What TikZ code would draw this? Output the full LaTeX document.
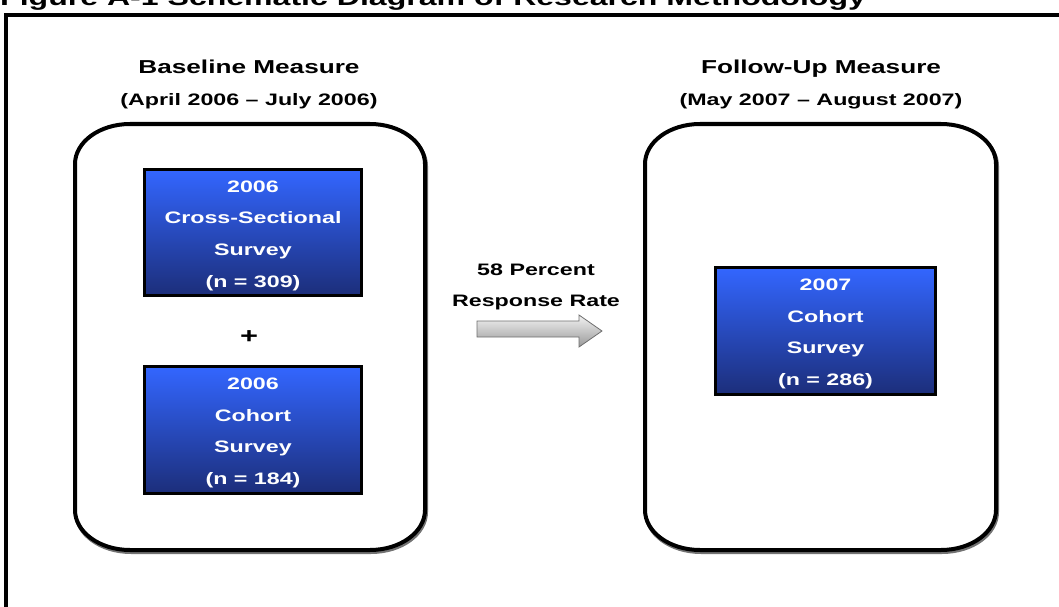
\documentclass[tikz,border=0pt]{standalone}
\usepackage{fontspec}
\setmainfont{Liberation Sans}[FakeStretch=1.4]
\definecolor{btop}{RGB}{51,102,255}
\definecolor{bbot}{RGB}{28,46,122}
\definecolor{agray}{RGB}{110,110,110}
\newcommand\eboxpath[4]{({#1+55},#2) -- ({#3-55},#2) arc[start angle=-90,end angle=0,x radius=55,y radius=40] -- (#3,{#4-40}) arc[start angle=0,end angle=90,x radius=55,y radius=40] -- ({#1+55},#4) arc[start angle=90,end angle=180,x radius=55,y radius=40] -- (#1,{#2+40}) arc[start angle=180,end angle=270,x radius=55,y radius=40] -- cycle}
\begin{document}
\begin{tikzpicture}[x=1pt,y=-1pt,
  rbox/.style={draw=black,line width=4pt,fill=white},
  rshadow/.style={draw=black!55,line width=4pt},
  survey/.style={draw=black,line width=3pt,top color=btop,bottom color=bbot,inner sep=0pt},
  stext/.style={text=white,align=center,inner sep=0pt,
    font=\bfseries\fontsize{16.6}{31.7}\selectfont},
  head/.style={font=\bfseries\fontsize{18.7}{22}\selectfont,inner sep=0pt,anchor=base},
  sub/.style={font=\bfseries\fontsize{16.6}{20}\selectfont,inner sep=0pt,anchor=base},
  lbl/.style={font=\bfseries\fontsize{16.6}{31}\selectfont,align=center,inner sep=0pt},
  blockarrow/.style={draw=agray,line width=0.8pt,top color=white!95!black,bottom color=black!40}]
\useasboundingbox (0,0) rectangle (1059,607);
% title (cut off at top)
\node[anchor=base west,inner sep=0pt,font=\bfseries\fontsize{22.9}{26}\selectfont] (title) at (0,5.5) {Figure A-1 Schematic Diagram of Research Methodology};
% outer frame
\draw[line width=4.5pt] (6,625) -- (6,15) -- (1075,15);
% headings
\node[head] (bhead) at (249,73.3) {Baseline Measure};
\node[sub] (bdate) at (249,105.5) {(April 2006 -- July 2006)};
\node[head] (fhead) at (821,73.3) {Follow-Up Measure};
\node[sub] (fdate) at (821,105.5) {(May 2007 -- August 2007)};
% rounded containers
\draw[rshadow] \eboxpath{76}{126}{426}{552};
\draw[rbox] \eboxpath{75}{124}{425}{550};
\draw[rshadow] \eboxpath{646}{126}{997}{552};
\draw[rbox] \eboxpath{645}{124}{996}{550};
% survey boxes
\node[survey,minimum width=217pt,minimum height=126pt] (cs06) at (253,232.5) {};
\node[stext] (cs06t) at ([yshift=-3pt]cs06.center) {2006\\Cross-Sectional\\Survey\\(n = 309)};
\node[font=\bfseries\fontsize{22}{24}\selectfont,inner sep=0pt] (plus) at (249,337) {+};
\node[survey,minimum width=217pt,minimum height=127pt] (co06) at (253,430) {};
\node[stext] (co06t) at ([yshift=-3pt]co06.center) {2006\\Cohort\\Survey\\(n = 184)};
\node[survey,minimum width=220pt,minimum height=127pt] (co07) at (825.5,331) {};
\node[stext] (co07t) at ([yshift=-3pt]co07.center) {2007\\Cohort\\Survey\\(n = 286)};
% arrow and label
\node[lbl] (rate) at (536,286.5) {58 Percent\\Response Rate};
\path[blockarrow] (477,321) -- (579,321) -- (579,315) -- (602,331) -- (579,347) -- (579,337) -- (477,337) -- cycle;
\end{tikzpicture}
\end{document}
